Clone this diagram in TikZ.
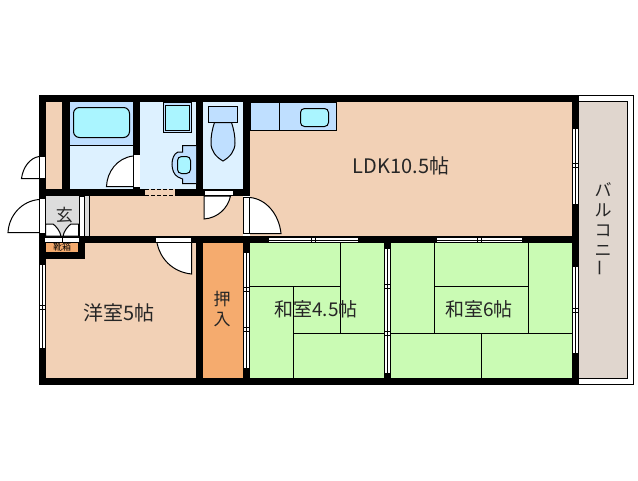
\documentclass[tikz,border=0pt]{standalone}
\usepackage{fontspec}
\setmainfont{Liberation Sans}
\newfontfamily\jpfont{Noto Sans CJK JP}
\begin{document}
\begin{tikzpicture}
	[x=1pt,y=-1pt,line width=1pt,
		wall/.style={fill=black,draw=none},
		peach/.style={fill=roomcol,draw=none},
		wet/.style={fill=wetcol,draw=none},
		fitting/.style={fill=fitcol,draw=black},
		basin/.style={fill=basincol,draw=black,rounded corners=4pt},
		leaf/.style={fill=white,draw=black},
		pane/.style={fill=white,draw=black},
		mat/.style={draw=black},
		label/.style={font=\jpfont\fontsize{19}{19}\selectfont,inner sep=0pt,text=black!85}]
	\definecolor{roomcol}{HTML}{F2D1B6}
	\definecolor{wetcol}{HTML}{DDF1FF}
	\definecolor{fitcol}{HTML}{BFDFFF}
	\definecolor{basincol}{HTML}{AAF5FF}
	\definecolor{tatamicol}{HTML}{CAFBB4}
	\definecolor{oshicol}{HTML}{F5AB6E}
	\definecolor{balcol}{HTML}{E0D6CE}
	\definecolor{stonecol}{HTML}{DCDCDC}
	\useasboundingbox[fill=white] (0,0) rectangle (638,480);

	% balcony
	\draw[fill=white] (579,95.5) -- (633.5,95.5) -- (633.5,384) -- (579,384);
	\draw[fill=balcol] (579,101.5) -- (627.5,101.5) -- (627.5,378) -- (579,378);

	% rooms
	\fill[peach] (46,102) rectangle (62,189);
	\fill[peach] (250,102) rectangle (572,236);
	\fill[peach] (89,196) rectangle (243,236);
	\fill[peach] (46,243) rectangle (196,378);
	\fill[wet] (70,102) rectangle (133,189);
	\fill[wet] (140,102) rectangle (196,189);
	\fill[wet] (203,102) rectangle (243,189);
	\fill[stonecol] (46,196) rectangle (79,236);
	\fill[stonecol] (84,196) rectangle (89,236);
	\fill[oshicol] (203,243) rectangle (243,378);
	\fill[tatamicol] (250,243) rectangle (384,378);
	\fill[tatamicol] (391,243) rectangle (572,378);
	\fill[oshicol] (46,243) rectangle (78,252);

	% walls
	\fill[wall] (39,95) rectangle (579,102);
	\fill[wall] (39,95) rectangle (46,385);
	\fill[wall] (572,95) rectangle (579,385);
	\fill[wall] (39,378) rectangle (579,385);
	\fill[wall] (62,102) rectangle (70,189);
	\fill[wall] (133,102) rectangle (140,189);
	\fill[wall] (196,102) rectangle (203,189);
	\fill[wall] (243,102) rectangle (250,196);
	\fill[wall] (39,189) rectangle (250,196);
	\fill[wall] (39,236) rectangle (579,243);
	\fill[wall] (196,243) rectangle (203,385);
	\fill[wall] (243,236) rectangle (250,378);
	\fill[wall] (384,243) rectangle (391,385);
	\fill[wall] (46,252) rectangle (85,259);
	\fill[wall] (78,243) rectangle (85,259);

	% bath
	\fill[fitcol] (70,102) rectangle (133,145);
	\draw (70,145) -- (133,145);
	\draw[basin,rounded corners=6pt] (73.5,107.5) rectangle (129.5,137.5);

	% wash room
	\draw[fill=fitcol] (163.5,102) rectangle (191.5,132.5);
	\draw[fill=basincol] (165.5,105.5) rectangle (189.5,130.5);
	\draw[fitting] (196,145.5) -- (182.5,145.5) -- (182.5,152) -- (178,152)
		.. controls (170,155) and (170,173) .. (178,177) -- (182.5,179) -- (182.5,183.5) -- (196,183.5);
	\draw[basin] (177.5,156.5) rectangle (190.5,173.5);
	\fill[roomcol] (145,189) rectangle (175,196);
	\draw[dashed,dash pattern=on 4pt off 2pt] (145,189.5) -- (175,189.5);
	\draw[dashed,dash pattern=on 4pt off 2pt] (145,195.5) -- (175,195.5);

	% toilet
	\draw[fitting] (208.5,106.5) rectangle (237.5,122.5);
	\draw[fitting] (214.5,122.5) .. controls (212,130) and (211,136) .. (211,143)
		.. controls (211,151) and (216,157) .. (223,161)
		.. controls (230,157) and (235,151) .. (235,143)
		.. controls (235,136) and (234,130) .. (231.5,122.5) -- cycle;

	% kitchen
	\draw[fitting] (250,102) rectangle (336.5,130.5);
	\draw (279,102) -- (279,130.5);
	\draw[basin] (300.5,108.5) rectangle (328.5,126.5);

	% doors
	\draw[leaf] (133,156) .. controls (117,158) and (107,172) .. (106.5,186.5) -- (133,186.5);
	\fill[white] (133,155) rectangle (140,187);
	\draw (133.5,155) -- (133.5,187);
	\draw[leaf] (204,196) -- (204,219) .. controls (218,218) and (228,208) .. (230.5,196) -- cycle;
	\draw[fill=white] (204,190) rectangle (233,195.5);
	\draw[leaf] (250,197.5) .. controls (266,199) and (279,214) .. (281,233.5) -- (250,233.5);
	\draw[fill=white] (243.5,197) rectangle (249.5,233.5);
	\draw[leaf] (157,243) .. controls (160,258) and (172,272) .. (191.5,274) -- (191.5,243);
	\draw[fill=white] (155,237) rectangle (191.5,242.5);
	\draw (191.5,236) -- (191.5,274);
	\draw[leaf] (39,156.5) .. controls (30,158) and (23,167) .. (21.5,178.5) -- (39,178.5);
	\draw[fill=white] (39.5,156) rectangle (45.5,178.5);
	\draw[leaf] (39,199.5) .. controls (22,201) and (9,215) .. (8,232.5) -- (39,232.5);
	\draw[fill=white] (39.5,198) rectangle (45.5,233);

	% entrance
	\draw[fill=white] (79.5,196) rectangle (84.5,236);
	\draw (89.5,196) -- (89.5,236);
	\draw[fill=white] (45.5,236) -- (45.5,224) -- (53,224) .. controls (56,226) and (60,231) .. (61,236) -- cycle;
	\draw[fill=white] (78.5,236) -- (78.5,224) -- (71,224) .. controls (68,226) and (64,231) .. (63,236) -- cycle;
	\draw[fill=white] (44,237) rectangle (62,242.5);
	\draw[fill=white] (62,237) rectangle (79,242.5);

	% windows
	\foreach \xa/\ya/\yb in {39.5/264/348,572.5/128/204,572.5/266/353,243.5/252/368,384.5/248/373} {
		\draw[pane] (\xa,\ya) rectangle (\xa+6,\yb);
		\draw (\xa+3,\ya) -- (\xa+3,\yb);
	}
	\foreach \xa/\ya in {39/307,572/165,572/310,243/289,243/329,384/286,384/333} {
		\draw (\xa,\ya-2) -- (\xa+7,\ya-2);
		\draw (\xa,\ya+2) -- (\xa+7,\ya+2);
	}
	\foreach \xa/\xb in {268/358,436/522} {
		\draw[pane] (\xa,237) rectangle (\xb,242.5);
		\draw (\xa,240) -- (\xb,240);
	}
	\foreach \xa in {313,479} {
		\draw (\xa-2,236) -- (\xa-2,243);
		\draw (\xa+2,236) -- (\xa+2,243);
	}

	% tatami
	\draw[mat] (340.5,243) -- (340.5,333.5);
	\draw[mat] (250,286.5) -- (340.5,286.5);
	\draw[mat] (293.5,286.5) -- (293.5,378);
	\draw[mat] (293.5,333.5) -- (384,333.5);
	\draw[mat] (434.5,243) -- (434.5,333.5);
	\draw[mat] (434.5,286.5) -- (528.5,286.5);
	\draw[mat] (528.5,243) -- (528.5,333.5);
	\draw[mat] (391,333.5) -- (572,333.5);
	\draw[mat] (481.5,333.5) -- (481.5,378);

	% text
	\node[label,font=\jpfont\fontsize{20}{20}\selectfont] (ldk) at (401,166) {LDK10.5帖};
	\node[label,font=\jpfont\fontsize{20}{20}\selectfont] (yoshitsu) at (119,313) {洋室5帖};
	\node[label] (washitsu) at (316,309) {和室4.5帖};
	\node[label] (washitsub) at (479,309) {和室6帖};
	\node[label,align=center,font=\jpfont\fontsize{17}{17}\selectfont] (oshiire) at (222,309) {押\\[3pt]入};
	\node[label,align=center,font=\jpfont\fontsize{17}{20}\selectfont] (balcony) at (603,230) {バ\\ル\\コ\\ニ\\{\rotatebox{90}{ー}}};
	\node[label,font=\jpfont\fontsize{17}{17}\selectfont] (genkan) at (64.5,215) {玄};
	\node[label,text=black,font=\jpfont\fontsize{9}{9}\selectfont] (kutsubako) at (62,247.5) {靴箱};
\end{tikzpicture}
\end{document}
